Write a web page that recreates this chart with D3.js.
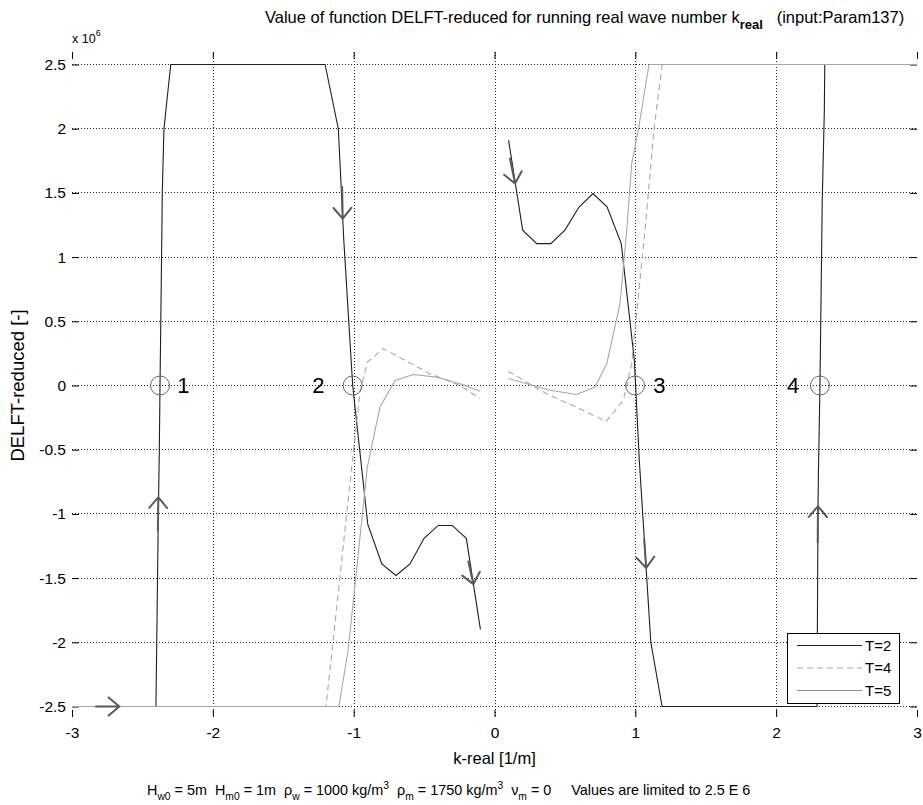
<!DOCTYPE html>
<html><head><meta charset="utf-8">
<script src="https://cdn.jsdelivr.net/npm/d3@7"></script>
<style>
body{margin:0;background:#fff}
svg{display:block}
text{font-family:"Liberation Sans",Arial,sans-serif;fill:#000}
</style>
</head><body>
<svg id="c" width="923" height="805"></svg>
<script>
// ---------- data ----------
const kTicks = [-3, -2, -1, 0, 1, 2, 3];
const kTickLabels = ["-3", "-2", "-1", "0", "1", "2", "3"];
const vTicks = [-2.5, -2, -1.5, -1, -0.5, 0, 0.5, 1, 1.5, 2, 2.5];
const vTickLabels = ["-2.5", "-2", "-1.5", "-1", "-0.5", "0", "0.5", "1", "1.5", "2", "2.5"];

// T=2 (two branches)
const t2LeftK = [-3, -2.404, -2.387, -2.380, -2.375, -2.363, -2.359, -2.347, -2.299, -1.203, -1.109, -1.07, -1.007, -0.9, -0.8, -0.7, -0.6, -0.5, -0.4, -0.3, -0.2, -0.1];
const t2LeftV = [-2.5, -2.5, -1.0, -0.5, 0, 1.1, 1.5, 2.0, 2.5, 2.5, 2.0, 1.13, 0, -1.08, -1.39, -1.48, -1.39, -1.19, -1.09, -1.09, -1.19, -1.9];
const t2RightK = [0.1, 0.2, 0.3, 0.4, 0.5, 0.6, 0.7, 0.8, 0.9, 0.993, 1.028, 1.11, 1.19, 2.29, 2.297, 2.30, 2.311, 2.327, 2.342, 2.345];
const t2RightV = [1.91, 1.21, 1.105, 1.105, 1.21, 1.39, 1.495, 1.39, 1.105, 0.196, -0.58, -2.0, -2.5, -2.5, -0.94, -0.69, 0, 1.43, 2.14, 2.5];

// T=4
const t4LeftK = [-3, -1.197, -1.152, -1.014, -0.955, -0.903, -0.79, -0.458, -0.245, -0.103];
const t4LeftV = [-2.5, -2.5, -2.05, -0.636, -0.05, 0.18, 0.287, 0.092, 0.0, -0.1];
const t4RightK = [0.098, 0.371, 0.583, 0.792, 0.915, 0.974, 1.033, 1.073, 1.133, 1.191, 3];
const t4RightV = [0.111, -0.065, -0.17, -0.28, -0.116, 0.17, 0.82, 1.261, 2.0, 2.5, 2.5];

// T=5
const t5LeftK = [-3, -1.105, -1.038, -0.903, -0.813, -0.706, -0.577, -0.41, -0.245, -0.103];
const t5LeftV = [-2.5, -2.5, -2.05, -0.636, -0.167, 0.04, 0.086, 0.065, 0.013, -0.044];
const t5RightK = [0.098, 0.394, 0.583, 0.714, 0.797, 0.891, 0.939, 0.974, 1.021, 1.097, 3];
const t5RightV = [0.054, -0.037, -0.07, -0.012, 0.17, 0.636, 1.209, 1.728, 1.988, 2.5, 2.5];

// direction arrows on T=2 (tail -> tip)
const arrowTailK = [-2.83, -2.39, -1.082, -0.186, 0.11, 1.063, 2.295];
const arrowTailV = [-2.5, -1.13, 1.546, -1.37, 1.767, -1.2, -1.22];
const arrowTipK  = [-2.664, -2.387, -1.078, -0.15, 0.146, 1.077, 2.297];
const arrowTipV  = [-2.5, -0.87, 1.30, -1.547, 1.573, -1.42, -0.94];

// zero crossings
const rootK = [-2.375, -1.007, 0.998, 2.311];
const rootLabels = ["1", "2", "3", "4"];
const rootLabelK = [-2.21, -1.25, 1.17, 2.12];

const seriesNames = ["T=2", "T=4", "T=5"];

// ---------- drawing ----------
const svg = d3.select("#c");
svg.append("rect").attr("width", 923).attr("height", 805).attr("fill", "#fff");

const x = d3.scaleLinear().domain([-3, 3]).range([72, 917]);
const y = d3.scaleLinear().domain([-2.5818, 2.5974]).range([717, 52]);
const px = v => Math.round(v) + 0.5;

// grid
const grid = svg.append("g").attr("stroke", "#222").attr("stroke-width", 1).attr("stroke-dasharray", "1,2");
grid.selectAll("line.gx").data(kTicks.slice(1, -1)).join("line")
  .attr("x1", d => px(x(d))).attr("x2", d => px(x(d)))
  .attr("y1", y.range()[1]).attr("y2", y.range()[0]);
grid.selectAll("line.gy").data(vTicks).join("line")
  .attr("y1", d => px(y(d) - 0.5)).attr("y2", d => px(y(d) - 0.5))
  .attr("x1", x.range()[0]).attr("x2", x.range()[1]);

// axes
const fmtK = (d) => kTickLabels[kTicks.indexOf(d)];
const fmtV = (d) => vTickLabels[vTicks.indexOf(d)];
const gB = svg.append("g").attr("transform", `translate(0,${y.range()[0]})`)
  .call(d3.axisBottom(x).tickValues(kTicks).tickFormat(fmtK).tickSize(-7).tickPadding(10));
const gT = svg.append("g").attr("transform", `translate(0,${y.range()[1]})`)
  .call(d3.axisTop(x).tickValues(kTicks).tickFormat("").tickSize(-7));
const gL = svg.append("g").attr("transform", `translate(${x.range()[0]},0)`)
  .call(d3.axisLeft(y).tickValues(vTicks).tickFormat(fmtV).tickSize(-7).tickPadding(6));
const gR = svg.append("g").attr("transform", `translate(${x.range()[1]},0)`)
  .call(d3.axisRight(y).tickValues(vTicks).tickFormat("").tickSize(-7));
[gB, gT, gL, gR].forEach(g => {
  g.select(".domain").remove();
  g.selectAll("line").attr("stroke", "#000");
  g.selectAll("text").attr("font-size", 15.5).attr("fill", "#000")
    .style("font-family", '"Liberation Sans",Arial,sans-serif');
});

// curves
const line = d3.line().x(d => x(d[0])).y(d => y(d[1]));
const zip = (a, b) => a.map((v, i) => [v, b[i]]);
const series = [
  { name: seriesNames[0], parts: [zip(t2LeftK, t2LeftV), zip(t2RightK, t2RightV)], color: "#1e1e1e", dash: null },
  { name: seriesNames[1], parts: [zip(t4LeftK, t4LeftV), zip(t4RightK, t4RightV)], color: "#a8a8a8", dash: "6,4" },
  { name: seriesNames[2], parts: [zip(t5LeftK, t5LeftV), zip(t5RightK, t5RightV)], color: "#a8a8a8", dash: null }
];
const plot = svg.append("g");
series.forEach(s => {
  plot.selectAll(null).data(s.parts).join("path")
    .attr("d", line).attr("fill", "none").attr("stroke", s.color)
    .attr("stroke-width", 1.1).attr("stroke-dasharray", s.dash);
});

// arrows
const arrows = arrowTipK.map((k, i) => ({ tx: x(arrowTailK[i]), ty: y(arrowTailV[i]), hx: x(k), hy: y(arrowTipV[i]) }));
const ag = svg.append("g").attr("stroke", "#5a5a5a").attr("stroke-width", 2).attr("fill", "none").attr("stroke-linecap", "round");
arrows.forEach(a => {
  const ang = Math.atan2(a.hy - a.ty, a.hx - a.tx);
  const L = 14, spread = 40 * Math.PI / 180;
  const p1 = [a.hx - L * Math.cos(ang - spread), a.hy - L * Math.sin(ang - spread)];
  const p2 = [a.hx - L * Math.cos(ang + spread), a.hy - L * Math.sin(ang + spread)];
  ag.append("path").attr("d", `M${a.tx},${a.ty}L${a.hx},${a.hy}M${p1[0]},${p1[1]}L${a.hx},${a.hy}L${p2[0]},${p2[1]}`);
});

// root circles and labels
svg.append("g").selectAll("circle").data(rootK).join("circle")
  .attr("cx", d => x(d)).attr("cy", y(0)).attr("r", 9.5)
  .attr("fill", "none").attr("stroke", "#666").attr("stroke-width", 1);
svg.append("g").selectAll("text").data(rootLabels).join("text")
  .attr("x", (d, i) => x(rootLabelK[i])).attr("y", y(0)).attr("dy", "0.36em")
  .attr("text-anchor", "middle").attr("font-size", 22).text(d => d);

// legend
const lg = svg.append("g").attr("transform", "translate(787,633)");
lg.append("rect").attr("x", 0.5).attr("y", 0.5).attr("width", 112).attr("height", 70)
  .attr("fill", "#fff").attr("stroke", "#000");
series.forEach((s, i) => {
  const yy = 12.5 + i * 22.5;
  lg.append("line").attr("x1", 10).attr("x2", 75).attr("y1", yy).attr("y2", yy)
    .attr("stroke", i === 2 ? "#8a8a8a" : s.color).attr("stroke-width", 1.1).attr("stroke-dasharray", s.dash);
  lg.append("text").attr("x", 78).attr("y", yy).attr("dy", "0.36em").attr("font-size", 15).text(s.name);
});

// titles
const title = svg.append("text").attr("x", 265).attr("y", 23).attr("font-size", 16.5).style("white-space", "pre");
title.append("tspan").text("Value of function DELFT-reduced for running real wave number k");
title.append("tspan").attr("dy", 6).attr("font-size", 13).attr("font-weight", "bold").text("real");
title.append("tspan").attr("dy", -6).text("   (input:Param137)");

const ex = svg.append("text").attr("x", 72).attr("y", 43).attr("font-size", 12.5);
ex.append("tspan").text("x 10");
ex.append("tspan").attr("dy", -7).attr("font-size", 9).text("6");

svg.append("text").attr("x", 494.5).attr("y", 764).attr("text-anchor", "middle").attr("font-size", 16.5).text("k-real [1/m]");
svg.append("text").attr("transform", `translate(24,${y(0)}) rotate(-90)`).attr("text-anchor", "middle").attr("font-size", 18.5).text("DELFT-reduced [-]");

const foot = svg.append("text").attr("x", 147).attr("y", 795).attr("font-size", 14.4).style("white-space", "pre");
const parts = [
  ["H", 0], ["w0", 1], [" = 5m  H", 0], ["m0", 1], [" = 1m  \u03C1", 0], ["w", 1], [" = 1000 kg/m", 0], ["3", 2],
  ["  \u03C1", 0], ["m", 1], [" = 1750 kg/m", 0], ["3", 2], ["  \u03BD", 0], ["m", 1], [" = 0     Values are limited to 2.5 E 6", 0]
];
let prev = 0;
parts.forEach(([t, kind]) => {
  const off = kind === 1 ? 5 : kind === 2 ? -6 : 0;
  foot.append("tspan").attr("dy", off - prev).attr("font-size", kind ? 10.3 : 14.4).text(t);
  prev = off;
});
</script>
</body></html>
